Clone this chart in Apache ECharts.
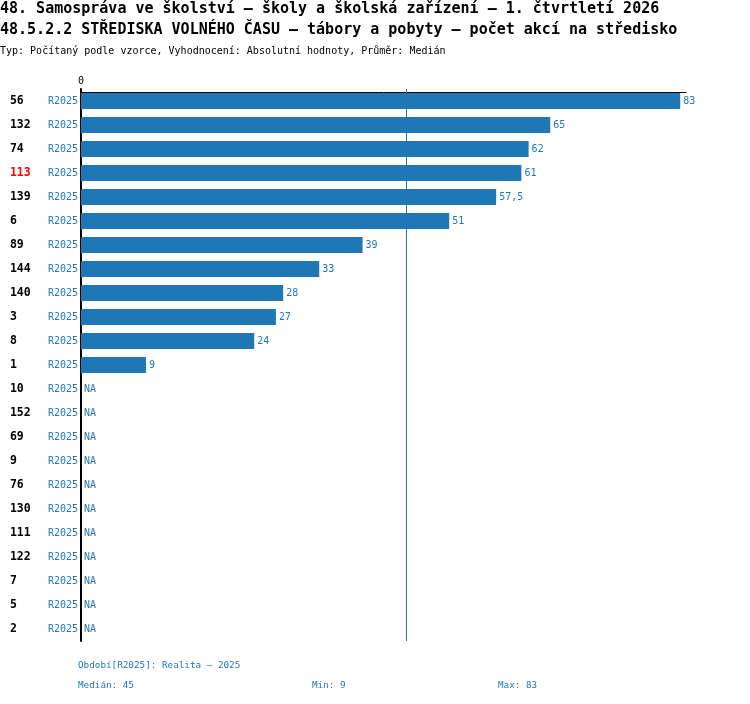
<!DOCTYPE html>
<html>
<head>
<meta charset="utf-8">
<script src="https://cdn.jsdelivr.net/npm/echarts@6/dist/echarts.min.js"></script>
<style>
  html, body { margin: 0; padding: 0; background: #fff; }
  #chart { width: 750px; height: 704px; }
</style>
</head>
<body>
<div id="chart"></div>
<script>
// data
var ids = ['56', '132', '74', '113', '139', '6', '89', '144', '140', '3', '8', '1',
  '10', '152', '69', '9', '76', '130', '111', '122', '7', '5', '2'];
var values = [83, 65, 62, 61, 57.5, 51, 39, 33, 28, 27, 24, 9,
  null, null, null, null, null, null, null, null, null, null, null];
var periodLabel = 'R2025';
var highlightId = '113';
var titleLines = [
  '48. Samospráva ve školství – školy a školská zařízení – 1. čtvrtletí 2026',
  '48.5.2.2 STŘEDISKA VOLNÉHO ČASU – tábory a pobyty – počet akcí na středisko'
];
var typeLine = 'Typ: Počítaný podle vzorce, Vyhodnocení: Absolutní hodnoty, Průměr: Medián';
var periodNote = 'Období[R2025]: Realita – 2025';

var BLUE = '#1f77b4';
var MONO = '"DejaVu Sans Mono", "Liberation Mono", monospace';

// statistiky z hodnot
var nums = values.filter(function (v) { return v != null; }).sort(function (a, b) { return a - b; });
var mid = Math.floor(nums.length / 2);
var median = nums.length % 2 ? nums[mid] : (nums[mid - 1] + nums[mid]) / 2;
var minV = nums[0];
var maxV = nums[nums.length - 1];

function fmt(v) {
  return String(v).replace('.', ',');
}

var barData = values.map(function (v) {
  if (v == null) {
    return { value: 0, label: { formatter: 'NA' } };
  }
  return v;
});

function txt(x, y, text, font, fill) {
  return {
    type: 'text', x: x, y: y,
    style: { text: text, font: font, fill: fill, textAlign: 'left', textVerticalAlign: 'middle' }
  };
}

var chart = echarts.init(document.getElementById('chart'), null, { renderer: 'canvas' });

chart.setOption({
  animation: false,
  backgroundColor: '#fff',
  grid: {
    left: 81,
    top: 89,
    width: 605,
    height: 552,
    containLabel: false
  },
  xAxis: {
    type: 'value',
    position: 'top',
    offset: -3,
    min: 0,
    max: 83.8,
    interval: 100,
    splitLine: { show: false },
    axisTick: { show: false },
    axisLine: { show: true, lineStyle: { color: '#000', width: 1 } },
    axisLabel: {
      margin: 6,
      fontFamily: MONO,
      fontSize: 10,
      color: '#000',
      formatter: function (v) { return v === 0 ? '0' : ''; }
    }
  },
  yAxis: {
    type: 'category',
    inverse: true,
    data: ids,
    axisTick: { show: false },
    axisLine: { show: true, lineStyle: { color: '#000', width: 2 } },
    axisLabel: {
      margin: 3,
      formatter: function (v) {
        var st = v === highlightId ? 'idRed' : 'id';
        return '{' + st + '|' + v + '}{r|' + periodLabel + '}';
      },
      rich: {
        id: { width: 38, align: 'left', fontFamily: MONO, fontSize: 11.5, fontWeight: 'bold', color: '#000' },
        idRed: { width: 38, align: 'left', fontFamily: MONO, fontSize: 11.5, fontWeight: 'bold', color: '#ff0000' },
        r: { fontFamily: MONO, fontSize: 10, color: BLUE }
      }
    }
  },
  series: [{
    type: 'bar',
    data: barData,
    barWidth: 16,
    itemStyle: { color: BLUE },
    label: {
      show: true,
      position: 'right',
      distance: 3,
      fontFamily: MONO,
      fontSize: 10,
      color: BLUE,
      formatter: function (p) { return fmt(p.value); }
    },
    markLine: {
      silent: true,
      symbol: 'none',
      label: { show: false },
      lineStyle: { color: BLUE, width: 1, type: 'solid' },
      data: [{ xAxis: median }]
    }
  }],
  graphic: [
    txt(0, 9, titleLines[0], 'bold 15px ' + MONO, '#000'),
    txt(0, 30, titleLines[1], 'bold 15px ' + MONO, '#000'),
    txt(0, 51, typeLine, '10px ' + MONO, '#000'),
    txt(78, 666, periodNote, '9.3px ' + MONO, BLUE),
    txt(78, 686, 'Medián: ' + fmt(median), '9.3px ' + MONO, BLUE),
    txt(312, 686, 'Min: ' + fmt(minV), '9.3px ' + MONO, BLUE),
    txt(498, 686, 'Max: ' + fmt(maxV), '9.3px ' + MONO, BLUE)
  ]
});
</script>
</body>
</html>
